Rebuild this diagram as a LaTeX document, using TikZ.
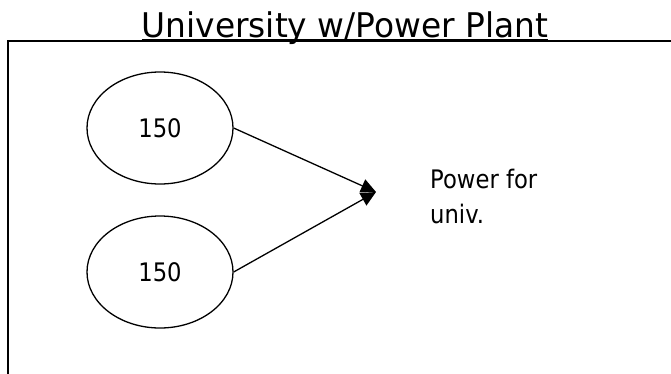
\documentclass[tikz,border=0pt]{standalone}
\usepackage{fontspec}
\setmainfont{DejaVu Sans}[FakeStretch=0.89]
\newfontfamily\titlefont{DejaVu Sans}[FakeStretch=0.966]
\usetikzlibrary{shapes.geometric,arrows.meta}
\begin{document}
\begin{tikzpicture}[x=1pt,y=-1pt,
  oval/.style={draw,ellipse,line width=1.3pt,minimum width=146pt,minimum height=112pt,inner sep=0pt,font=\fontsize{25.5}{30}\selectfont},
  lab/.style={anchor=base west,inner sep=0pt,font=\fontsize{25.5}{30}\selectfont},
  conn/.style={line width=1.3pt,-{Triangle[length=15pt,width=14pt]}},
  frame/.style={line width=1.4pt}]
\useasboundingbox (0,0) rectangle (671,373);
\clip (0,0) rectangle (671,373);
\draw[frame] (8,385) -- (8,41) -- (690,41);
\node[anchor=base,inner sep=0pt,font=\titlefont\fontsize{34}{40}\selectfont] (title) at (345,37) {University w/Power Plant};
\draw[line width=1.2pt] ([yshift=-3pt]title.base west) -- ([yshift=-3pt]title.base east);
\node[oval] (e1) at (160,128) {150};
\node[oval] (e2) at (160,272) {150};
\coordinate (join) at (376,192);
\draw[conn] (e1.east) -- (join);
\draw[conn] (e2.east) -- (join);
\node[lab] (p1) at (430,188) {Power for};
\node[lab] (p2) at (430,223) {univ.};
\end{tikzpicture}
\end{document}
